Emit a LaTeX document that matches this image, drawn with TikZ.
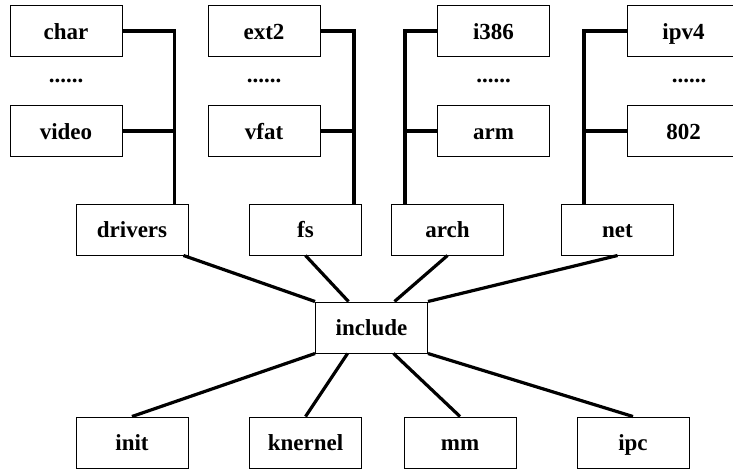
\documentclass[tikz,border=0pt]{standalone}
\usepackage{fontspec}
\setmainfont{Liberation Serif}
\usetikzlibrary{calc}
\begin{document}
\begin{tikzpicture}[x=1pt,y=-1pt,
  dirbox/.style={draw, line width=1pt, minimum width=112pt, minimum height=51pt, inner sep=0pt,
    text height=17pt, text depth=1pt,
    font=\fontsize{23}{23}\selectfont\bfseries},
  dots/.style={anchor=base, inner sep=0pt, font=\fontsize{23}{23}\selectfont\bfseries},
  link/.style={line width=3.2pt}]
\useasboundingbox (0,0) rectangle (733,469);
\clip (0,0) rectangle (733,469);
% top rows
\node[dirbox] (char)  at (66,31) {char};
\node[dirbox] (video) at (66,131) {video};
\node[dots]   (d1)    at (66,82) {......};
\node[dirbox] (ext2)  at (264,31) {ext2};
\node[dirbox] (vfat)  at (264,131) {vfat};
\node[dots]   (d2)    at (264,82) {......};
\node[dirbox] (i386)  at (493.5,31) {i386};
\node[dirbox] (arm)   at (493.5,131) {arm};
\node[dots]   (d3)    at (493.5,82) {......};
\node[dirbox] (ipv4)  at (683.5,31) {ipv4};
\node[dirbox] (n802)  at (683.5,131) {802};
\node[dots]   (d4)    at (689,82) {......};
% middle row
\node[dirbox] (drivers) at (132,229.5) {drivers};
\node[dirbox] (fs)      at (305.5,229.5) {fs};
\node[dirbox] (arch)    at (447.5,229.5) {arch};
\node[dirbox] (net)     at (617.5,229.5) {net};
% include
\node[dirbox] (include) at (371.5,327.5) {include};
% bottom row
\node[dirbox] (init)    at (132,442.5) {init};
\node[dirbox] (knernel) at (305.5,442.5) {knernel};
\node[dirbox] (mm)      at (460,442.5) {mm};
\node[dirbox] (ipc)     at (633,442.5) {ipc};
% tree connectors
\coordinate (cdrv) at ([xshift=-14pt]drivers.north east);
\coordinate (cfs)  at ([xshift=-8pt]fs.north east);
\coordinate (carch) at ([xshift=14pt]arch.north west);
\coordinate (cnet) at ([xshift=23pt]net.north west);
\draw[link] (char.east) -| (cdrv);
\draw[link] (video.east) -- (video.east -| cdrv);
\draw[link] (ext2.east) -| (cfs);
\draw[link] (vfat.east) -- (vfat.east -| cfs);
\draw[link] (i386.west) -| (carch);
\draw[link] (arm.west) -- (arm.west -| carch);
\draw[link] (ipv4.west) -| (cnet);
\draw[link] (n802.west) -- (n802.west -| cnet);
% star connectors
\draw[link] ([xshift=-5pt]drivers.south east) -- (include.north west);
\draw[link] (fs.south) -- ([xshift=-23pt]include.north);
\draw[link] (arch.south) -- ([xshift=23pt]include.north);
\draw[link] (net.south) -- (include.north east);
\draw[link] (include.south west) -- (init.north);
\draw[link] ([xshift=-24pt]include.south) -- (knernel.north);
\draw[link] ([xshift=22pt]include.south) -- (mm.north);
\draw[link] (include.south east) -- (ipc.north);
\end{tikzpicture}
\end{document}
